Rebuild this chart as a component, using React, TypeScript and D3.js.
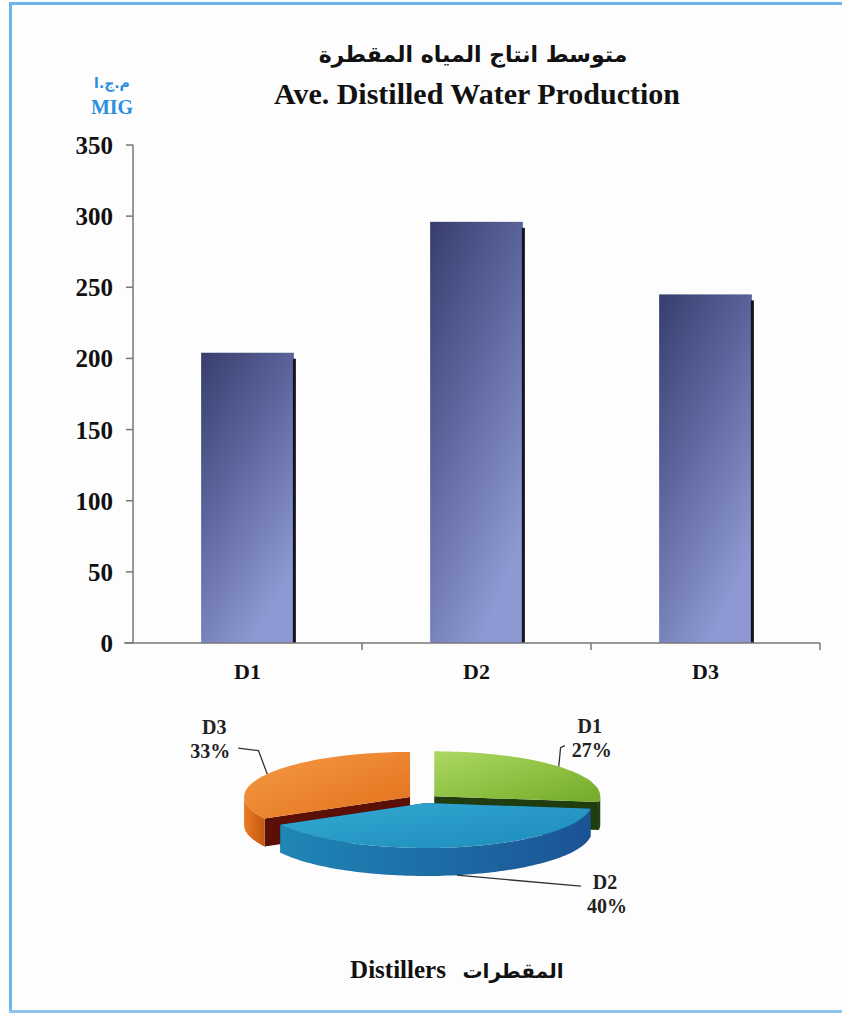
import React from 'react';
import * as d3 from 'd3';

const categories = ['D1', 'D2', 'D3'];
const production = [204, 296, 245];
const yTicks = [0, 50, 100, 150, 200, 250, 300, 350];
const pieShares = [27, 40, 33];
const pieLabels = ['27%', '40%', '33%'];

const W = 842;
const H = 1015;
const serif = '"Liberation Serif", "Times New Roman", serif';
const arabicFont = '"DejaVu Sans", sans-serif';

const sliceStyle: Record<string, { topA: string; topB: string; side: string; rimA: string; rimB: string }> = {
  D1: { topA: '#acd862', topB: '#74ab27', side: '#203d0f', rimA: '#2a4a14', rimB: '#162c08' },
  D2: { topA: '#35a8d2', topB: '#1c8cbc', side: '#16466e', rimA: '#1f86b6', rimB: '#1b5394' },
  D3: { topA: '#f59a46', topB: '#e3701a', side: '#5a1006', rimA: '#e97a26', rimB: '#c45a10' },
};
const labelOffset: Record<string, { ex: number; ey: number; tx: number; ty: number }> = {
  D1: { ex: 6, ey: -21, tx: 31, ty: -34 },
  D2: { ex: 124, ey: 11, tx: 148, ty: 14 },
  D3: { ex: -29, ey: -26, tx: -53, ty: -40 },
};

export default function App() {
  const y = d3.scaleLinear().domain([0, 350]).range([643, 145]);
  const x = d3.scaleBand().domain(categories).range([133, 820]).paddingInner(0.595).paddingOuter(0.2975);
  const step = x.step();

  // pie geometry
  const cx = 423, cy = 799, rx = 166, ry = 45, depth = 28, explode = 15;
  const arcs = d3.pie<number>().sort(null).value((d) => d)(pieShares);
  const P = (a: number, c: [number, number], dz = 0): [number, number] => [c[0] + rx * Math.sin(a), c[1] - ry * Math.cos(a) + dz];
  const arcPts = (a0: number, a1: number, c: [number, number], dz = 0) => {
    const n = Math.max(2, Math.ceil(Math.abs(a1 - a0) / 0.03));
    return d3.range(n + 1).map((i) => P(a0 + ((a1 - a0) * i) / n, c, dz));
  };
  const line = d3.line();
  const order = [2, 0, 1];
  const slices = arcs.map((a, i) => {
    const mid = (a.startAngle + a.endAngle) / 2;
    const c: [number, number] = [cx + explode * Math.sin(mid), cy - explode * Math.cos(mid) * (ry / rx)];
    const top = line([c, ...arcPts(a.startAngle, a.endAngle, c)])! + 'Z';
    const walls = [a.startAngle, a.endAngle].map((ang) => {
      const p = P(ang, c);
      return line([c, p, [p[0], p[1] + depth], [c[0], c[1] + depth]])! + 'Z';
    });
    let rim: string | null = null;
    const r0 = Math.max(a.startAngle, Math.PI / 2);
    const r1 = Math.min(a.endAngle, (3 * Math.PI) / 2);
    if (r1 > r0) {
      rim = line([...arcPts(r0, r1, c), ...arcPts(r1, r0, c, depth)])! + 'Z';
    }
    const front = Math.cos(mid) < 0;
    const anchor = P(mid, c, front ? depth : 0);
    return { i, cat: categories[i], mid, c, top, walls, rim, anchor };
  });

  return (
    <svg width={W} height={H} style={{ position: 'absolute', left: 0, top: 0, background: '#fdfdfd' }}>
      <defs>
        <linearGradient id="barGrad" x1="0" y1="0" x2="0.55" y2="1">
          <stop offset="0%" stopColor="#373e6e" />
          <stop offset="45%" stopColor="#5c659b" />
          <stop offset="100%" stopColor="#8e98d2" />
        </linearGradient>
        {categories.map((c) => (
          <React.Fragment key={c}>
            <linearGradient id={`top-${c}`} x1="0" y1="0" x2="1" y2="1">
              <stop offset="0%" stopColor={sliceStyle[c].topA} />
              <stop offset="100%" stopColor={sliceStyle[c].topB} />
            </linearGradient>
            <linearGradient id={`rim-${c}`} x1="0" y1="0" x2="1" y2="0">
              <stop offset="0%" stopColor={sliceStyle[c].rimA} />
              <stop offset="100%" stopColor={sliceStyle[c].rimB} />
            </linearGradient>
          </React.Fragment>
        ))}
      </defs>
      <rect x={0} y={0} width={W} height={H} fill="#fdfdfd" />
      {/* frame */}
      <line x1={10.5} y1={2} x2={10.5} y2={1013} stroke="#6db4ea" strokeWidth={3} />
      <line x1={9} y1={3.5} x2={W} y2={3.5} stroke="#6db4ea" strokeWidth={3} />
      <line x1={9} y1={1011.5} x2={W} y2={1011.5} stroke="#8cc4ee" strokeWidth={3} />

      {/* titles */}
      <text x={473} y={62} textAnchor="middle" fontFamily={arabicFont} fontWeight="bold" fontSize={22} fill="#111" direction="rtl">
        متوسط انتاج المياه المقطرة
      </text>
      <text x={477} y={104} textAnchor="middle" fontFamily={serif} fontWeight="bold" fontSize={30} fill="#111">
        Ave. Distilled Water Production
      </text>
      <text x={112} y={88} textAnchor="middle" fontFamily={arabicFont} fontWeight="bold" fontSize={14} fill="#2b8fde" direction="rtl">
        م.ج.ا
      </text>
      <text x={112} y={114} textAnchor="middle" fontFamily={serif} fontWeight="bold" fontSize={20} fill="#2b8fde">
        MIG
      </text>

      {/* bars */}
      {categories.map((c, i) => {
        const x0 = x(c)!;
        const y0 = y(production[i]);
        return (
          <g key={c}>
            <rect x={x0} y={y0} width={x.bandwidth()} height={y(0) - y0} fill="url(#barGrad)" />
            <rect x={x0 + x.bandwidth() - 1} y={y0 + 6} width={3} height={y(0) - y0 - 6} fill="#14141e" />
          </g>
        );
      })}

      {/* y axis */}
      <line x1={133} y1={y(350)} x2={133} y2={y(0)} stroke="#777" strokeWidth={1.5} />
      {yTicks.map((t) => (
        <g key={t}>
          <line x1={126} x2={133} y1={y(t)} y2={y(t)} stroke="#777" strokeWidth={1.5} />
          <text x={113} y={y(t) + 9} textAnchor="end" fontFamily={serif} fontWeight="bold" fontSize={25} fill="#111">
            {t}
          </text>
        </g>
      ))}
      {/* x axis */}
      <line x1={124} y1={y(0)} x2={820} y2={y(0)} stroke="#777" strokeWidth={1.5} />
      {categories.map((c) => {
        const tx = x(c)! + x.bandwidth() / 2 + step / 2;
        return (
          <g key={c}>
            <line x1={tx} x2={tx} y1={y(0)} y2={y(0) + 7} stroke="#777" strokeWidth={1.5} />
            <text x={x(c)! + x.bandwidth() / 2} y={y(0) + 36} textAnchor="middle" fontFamily={serif} fontWeight="bold" fontSize={22} fill="#111">
              {c}
            </text>
          </g>
        );
      })}

      {/* 3D pie */}
      {order.map((k) => {
        const s = slices[k];
        const st = sliceStyle[s.cat];
        return (
          <g key={s.cat}>
            {s.walls.map((w, j) => (
              <path key={j} d={w} fill={st.side} />
            ))}
            {s.rim && <path d={s.rim} fill={`url(#rim-${s.cat})`} />}
            <path d={s.top} fill={`url(#top-${s.cat})`} />
          </g>
        );
      })}
      {slices.map((s) => {
        const o = labelOffset[s.cat];
        const [ax, ay] = s.anchor;
        const right = o.tx > 0;
        const isFront = s.cat === 'D2';
        return (
          <g key={'l' + s.cat}>
            <polyline
              points={`${ax},${ay} ${ax + o.ex * (isFront ? 1 : 0.3)},${ay + o.ey * (isFront ? 1 : 0.9)} ${ax + o.ex},${ay + o.ey}`}
              fill="none"
              stroke="#333"
              strokeWidth={1.3}
            />
            <text x={ax + o.tx} y={ay + o.ty} textAnchor="middle" fontFamily={serif} fontWeight="bold" fontSize={20} fill="#222">
              {s.cat}
            </text>
            <text x={ax + o.tx + (right ? 2 : -4)} y={ay + o.ty + 24} textAnchor="middle" fontFamily={serif} fontWeight="bold" fontSize={20} fill="#222">
              {pieLabels[s.i]}
            </text>
          </g>
        );
      })}

      {/* bottom caption */}
      <text x={398} y={978} textAnchor="middle" fontFamily={serif} fontWeight="bold" fontSize={25} fill="#111">
        Distillers
      </text>
      <text x={513} y={978} textAnchor="middle" fontFamily={arabicFont} fontWeight="bold" fontSize={20} fill="#111" direction="rtl">
        المقطرات
      </text>
    </svg>
  );
}
